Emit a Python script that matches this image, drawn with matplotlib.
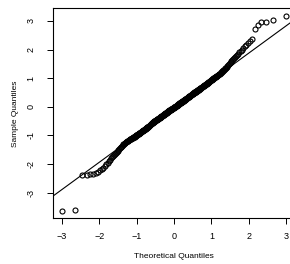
from statistics import NormalDist

import numpy as np
import matplotlib
matplotlib.use("Agg")
import matplotlib.pyplot as plt

plt.rcParams['font.family'] = ['Liberation Sans', 'DejaVu Sans']

# sorted sample values (lower half, then upper half)
sample_lower = [
    -3.62, -3.60, -2.39, -2.38, -2.36, -2.34, -2.31, -2.27, -2.22, -2.17,
    -2.13, -2.07, -2.01, -1.95, -1.90, -1.85, -1.80, -1.76, -1.71, -1.67,
    -1.64, -1.60, -1.57, -1.53, -1.50, -1.47, -1.44, -1.41, -1.39, -1.36,
    -1.34, -1.31, -1.29, -1.27, -1.25, -1.24, -1.22, -1.21, -1.19, -1.18,
    -1.16, -1.15, -1.14, -1.13, -1.12, -1.11, -1.10, -1.09, -1.08, -1.07,
    -1.06, -1.05, -1.04, -1.03, -1.02, -1.00, -0.99, -0.98, -0.97, -0.96,
    -0.95, -0.94, -0.93, -0.92, -0.91, -0.90, -0.89, -0.88, -0.87, -0.86,
    -0.85, -0.84, -0.83, -0.82, -0.82, -0.81, -0.80, -0.79, -0.78, -0.77,
    -0.76, -0.75, -0.74, -0.73, -0.72, -0.72, -0.71, -0.70, -0.69, -0.68,
    -0.67, -0.66, -0.65, -0.64, -0.62, -0.61, -0.60, -0.59, -0.58, -0.57,
    -0.56, -0.55, -0.55, -0.54, -0.53, -0.52, -0.51, -0.51, -0.50, -0.49,
    -0.48, -0.48, -0.47, -0.46, -0.46, -0.45, -0.44, -0.44, -0.43, -0.42,
    -0.41, -0.41, -0.40, -0.39, -0.39, -0.38, -0.37, -0.37, -0.36, -0.35,
    -0.34, -0.34, -0.33, -0.32, -0.32, -0.31, -0.30, -0.30, -0.29, -0.28,
    -0.27, -0.27, -0.26, -0.25, -0.25, -0.24, -0.23, -0.23, -0.22, -0.21,
    -0.20, -0.20, -0.19, -0.18, -0.18, -0.17, -0.16, -0.16, -0.15, -0.14,
    -0.13, -0.13, -0.12, -0.12, -0.11, -0.11, -0.10, -0.09, -0.09, -0.08,
    -0.07, -0.07, -0.06, -0.06, -0.05, -0.05, -0.04, -0.03, -0.03, -0.02,
]
sample_upper = [
    -0.02, -0.01, -0.01, 0.00, 0.01, 0.01, 0.02, 0.03, 0.03, 0.04,
    0.05, 0.06, 0.06, 0.07, 0.08, 0.08, 0.09, 0.10, 0.10, 0.11,
    0.12, 0.13, 0.13, 0.14, 0.14, 0.15, 0.16, 0.16, 0.17, 0.17,
    0.18, 0.19, 0.19, 0.20, 0.21, 0.21, 0.22, 0.23, 0.23, 0.24,
    0.25, 0.26, 0.26, 0.27, 0.28, 0.28, 0.29, 0.30, 0.30, 0.31,
    0.32, 0.33, 0.33, 0.34, 0.35, 0.35, 0.36, 0.37, 0.37, 0.38,
    0.39, 0.40, 0.41, 0.41, 0.42, 0.43, 0.44, 0.45, 0.45, 0.46,
    0.47, 0.48, 0.48, 0.49, 0.50, 0.50, 0.51, 0.52, 0.52, 0.53,
    0.54, 0.55, 0.56, 0.56, 0.57, 0.58, 0.59, 0.60, 0.60, 0.61,
    0.62, 0.63, 0.64, 0.65, 0.66, 0.66, 0.67, 0.68, 0.69, 0.70,
    0.71, 0.72, 0.73, 0.74, 0.75, 0.75, 0.76, 0.77, 0.78, 0.79,
    0.80, 0.81, 0.82, 0.83, 0.84, 0.86, 0.87, 0.88, 0.89, 0.90,
    0.91, 0.92, 0.93, 0.95, 0.96, 0.97, 0.98, 0.99, 1.00, 1.02,
    1.03, 1.04, 1.05, 1.07, 1.08, 1.09, 1.11, 1.12, 1.13, 1.15,
    1.16, 1.18, 1.20, 1.22, 1.24, 1.26, 1.28, 1.30, 1.32, 1.34,
    1.36, 1.39, 1.43, 1.46, 1.50, 1.53, 1.56, 1.60, 1.63, 1.67,
    1.70, 1.74, 1.78, 1.82, 1.86, 1.90, 1.95, 2.00, 2.06, 2.11,
    2.17, 2.24, 2.31, 2.38, 2.73, 2.85, 2.96, 2.97, 3.02, 3.16,
]
x_ticks = [-3, -2, -1, 0, 1, 2, 3]
y_ticks = [-3, -2, -1, 0, 1, 2, 3]
x_label = "Theoretical Quantiles"
y_label = "Sample Quantiles"


# qqnorm: theoretical quantiles from ppoints(n)
y = np.sort(np.array(sample_lower + sample_upper))
n = len(y)
nd = NormalDist()
x = np.array([nd.inv_cdf((i - 0.5) / n) for i in range(1, n + 1)])

# qqline through the quartiles
q1, q3 = np.percentile(y, [25, 75])
z1, z3 = nd.inv_cdf(0.25), nd.inv_cdf(0.75)
slope = (q3 - q1) / (z3 - z1)
intercept = q1 - slope * z1


fig = plt.figure(figsize=(2.90, 2.64), dpi=100)
# right edge of the box runs past the picture, as in the reference
ax = fig.add_axes([53.3 / 290, 1 - 218.3 / 264, 241.5 / 290, 209.8 / 264])

ax.plot(x, y, linestyle='none', marker='o', ms=3.6, mfc='none', mec='black', mew=0.8)
ax.axline((0, intercept), slope=slope, color='black', lw=0.8)

# R style 4% padding
xr = x.max() - x.min()
yr = y.max() - y.min()
ax.set_xlim(x.min() - 0.04 * xr, x.max() + 0.04 * xr)
ax.set_ylim(y.min() - 0.04 * yr, y.max() + 0.04 * yr)

ax.set_xticks(x_ticks)
ax.set_yticks(y_ticks)
ax.set_yticklabels([str(t) for t in y_ticks], rotation=90, va='center')
ax.tick_params(axis='both', direction='out', length=4, width=0.7, labelsize=6.5, color='black')
ax.tick_params(axis='x', pad=6)
ax.tick_params(axis='y', pad=9)
for s in ax.spines.values():
    s.set_linewidth(0.8)

ax.text(0.5, -0.18, x_label, transform=ax.transAxes, ha='center', va='center', fontsize=6)
ax.text(-0.158, 0.5, y_label, transform=ax.transAxes, ha='center', va='center', rotation=90, fontsize=6)

fig.savefig("out.png", dpi=100)
